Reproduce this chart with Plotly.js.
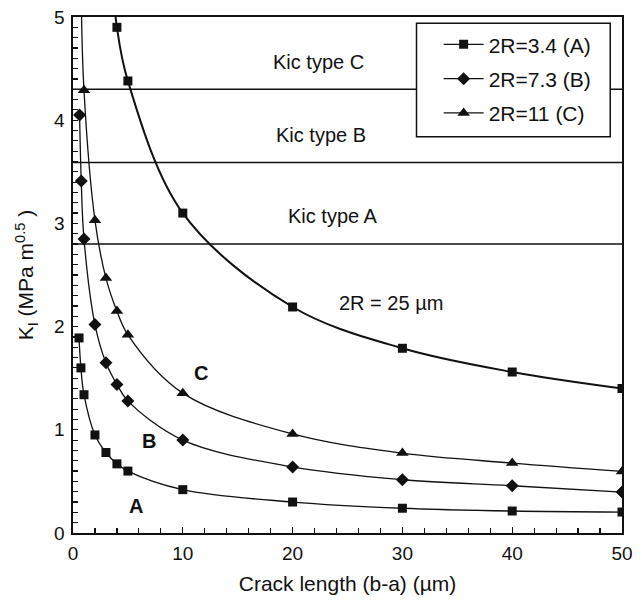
<!DOCTYPE html>
<html>
<head>
<meta charset="utf-8">
<script src="https://cdn.plot.ly/plotly-3.0.1.min.js"></script>
<style>html,body{margin:0;padding:0;background:#fff;}#chart{width:642px;height:600px;}</style>
</head>
<body>
<div id="chart"></div>
<script>
// Series A: 2R=3.4
const xA = [0.55, 0.72, 1, 2, 3, 4, 5, 10, 20, 30, 40, 50];
const yA = [1.89, 1.6, 1.34, 0.95, 0.78, 0.67, 0.6, 0.42, 0.3, 0.24, 0.213, 0.203];
// Series B: 2R=7.3
const xB = [0.6, 0.75, 1, 2, 3, 4, 5, 10, 20, 30, 40, 50];
const yB = [4.05, 3.41, 2.85, 2.02, 1.65, 1.44, 1.28, 0.9, 0.64, 0.516, 0.458, 0.397];
// Series C: 2R=11
const xC = [0.75, 1, 2, 3, 4, 5, 10, 20, 30, 40, 50];
const yC = [5.2, 4.29, 3.03, 2.47, 2.15, 1.92, 1.355, 0.96, 0.774, 0.678, 0.597];
// 2R = 25 um curve
const x25 = [3.5, 4, 5, 10, 20, 30, 40, 50];
const y25 = [5.5, 4.9, 4.38, 3.1, 2.19, 1.79, 1.56, 1.40];
// Kic levels
const kicLabels = ["Kic type A", "Kic type B", "Kic type C"];
const kicValues = [2.8, 3.59, 4.3];
const kicLabelX = [23.7, 22.6, 22.4];
const kicLabelY = [3.07, 3.86, 4.56];
// Series names
const seriesNames = ["2R=3.4 (A)", "2R=7.3 (B)", "2R=11 (C)"];
const curveLetters = ["A", "B", "C"];
const letterX = [5.7, 6.9, 11.7];
const letterY = [0.26, 0.89, 1.55];

const FONT = "Liberation Sans, Arial, Helvetica, sans-serif";
const INK = "#111";

function series(x, y, name, symbol, size, width, show, grp) {
  return {
    x: x, y: y, name: name, type: "scatter", mode: "lines+markers",
    legendgroup: grp,
    line: {color: INK, width: width, shape: "spline", smoothing: 1},
    marker: {symbol: symbol, size: size, color: INK},
    showlegend: show
  };
}

const traces = [
  series(xA, yA, seriesNames[0], "square", 9, 1.3, true, "a"),
  series(xB, yB, seriesNames[1], "diamond", 10, 1.3, true, "b"),
  series(xC, yC, seriesNames[2], "triangle-up", 11, 1.3, true, "c"),
  series(x25, y25, "2R = 25 µm", "square", 9, 2, false, "d")
];

const shapes = kicValues.map(v => ({
  type: "line", xref: "paper", x0: 0, x1: 1, yref: "y", y0: v, y1: v,
  line: {color: INK, width: 1.6}, layer: "below"
}));
// legend frame (white box covering the Kic line behind the legend)
shapes.push({
  type: "rect", xref: "paper", yref: "paper",
  x0: 0.6257, x1: 0.9786, y0: 0.768, y1: 0.988,
  fillcolor: "#fff", line: {color: INK, width: 1.5}, layer: "above"
});

const annotations = [];
kicLabels.forEach((t, i) => annotations.push({
  x: kicLabelX[i], y: kicLabelY[i], xref: "x", yref: "y", text: t,
  showarrow: false, font: {family: FONT, size: 20, color: INK}
}));
curveLetters.forEach((t, i) => annotations.push({
  x: letterX[i], y: letterY[i], xref: "x", yref: "y", text: "<b>" + t + "</b>",
  showarrow: false, font: {family: FONT, size: 20, color: INK}
}));
annotations.push({
  x: 29.0, y: 2.23, xref: "x", yref: "y", text: "2R = 25 µm",
  showarrow: false, font: {family: FONT, size: 20, color: INK}
});

const layout = {
  width: 642, height: 600,
  margin: {l: 73, r: 20, t: 17, b: 67},
  paper_bgcolor: "#fff", plot_bgcolor: "#fff",
  font: {family: FONT, size: 18, color: INK},
  showlegend: true,
  legend: {
    x: 0.666, y: 0.986, xanchor: "left", yanchor: "top",
    bgcolor: "rgba(0,0,0,0)", borderwidth: 0,
    itemwidth: 40, tracegroupgap: 4,
    font: {family: FONT, size: 21, color: INK}
  },
  xaxis: {
    range: [0, 50], dtick: 10, tick0: 0,
    showgrid: false, zeroline: false,
    showline: true, linecolor: INK, linewidth: 1.6, mirror: true,
    ticks: "inside", ticklen: 6, tickwidth: 1.2, tickcolor: INK,
    minor: {dtick: 2, ticks: "inside", ticklen: 5, tickwidth: 1.2, tickcolor: INK, showgrid: false},
    tickfont: {family: FONT, size: 19, color: INK},
    ticklabelstandoff: 3,
    title: {text: "Crack length (b-a) (µm)", font: {family: FONT, size: 21, color: INK}, standoff: 13}
  },
  yaxis: {
    range: [0, 5], dtick: 1, tick0: 0,
    showgrid: false, zeroline: false,
    showline: true, linecolor: INK, linewidth: 1.6, mirror: true,
    ticks: "inside", ticklen: 5, tickwidth: 1.2, tickcolor: INK,
    minor: {dtick: 0.1, ticks: "inside", ticklen: 5, tickwidth: 1.2, tickcolor: INK, showgrid: false},
    tickfont: {family: FONT, size: 19, color: INK},
    ticklabelstandoff: 3,
    title: {text: "K<sub>I</sub> (MPa m<sup>0.5</sup> )", font: {family: FONT, size: 21, color: INK}, standoff: 14}
  },
  shapes: shapes,
  annotations: annotations
};

Plotly.newPlot("chart", traces, layout, {displayModeBar: false, staticPlot: true});
</script>
</body>
</html>
